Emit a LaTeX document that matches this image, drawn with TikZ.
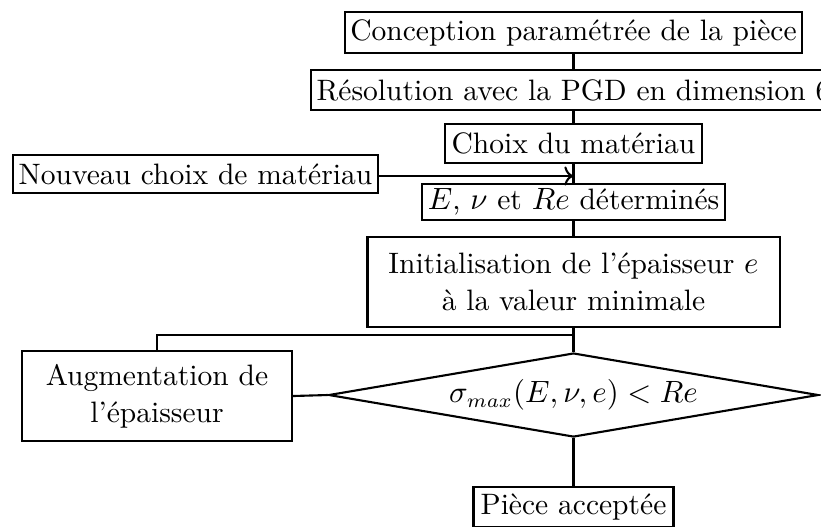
\documentclass[tikz,border=0pt]{standalone}
\usetikzlibrary{arrows.meta,shapes.geometric}

\begin{document}
\begin{tikzpicture}[x=0.0125cm,y=-0.0125cm,font=\fontsize{10.5}{13}\selectfont,
  boite/.style={draw,line width=0.75pt,align=center,inner xsep=2pt,inner ysep=1.5pt,minimum height=0.49cm},
  test/.style={draw,line width=0.75pt,shape=diamond,aspect=5.8,inner sep=0pt,minimum width=6.12cm,minimum height=1.05cm},
  lien/.style={line width=0.75pt}]
\useasboundingbox (0,0) rectangle (821,526);
\node[boite,minimum width=5.72cm,minimum height=0.51cm] (concept) at (573.5,32.5){Conception paramétrée de la pièce};
\node[boite,minimum width=6.52cm] (pgd) at (573.5,90){Résolution avec la PGD en dimension 6};
\node[boite,minimum width=3.21cm] (choix) at (573.5,143.5){Choix du matériau};
\node[boite,minimum width=3.77cm,minimum height=0.425cm] (proprio) at (573.5,202){$E$, $\nu$ et $Re$ déterminés};
\node[boite,minimum width=5.15cm,minimum height=1.12cm] (init) at (573.5,282){Initialisation de l'épaisseur $e$\\à la valeur minimale};
\node[boite,minimum width=4.56cm,minimum height=0.475cm] (nouveau) at (195.5,174){Nouveau choix de matériau};
\node[boite,minimum width=3.37cm,minimum height=1.12cm] (augm) at (157,396){Augmentation de\\l'épaisseur};
\node[test] (crit) at (573.5,395){$\sigma_{max}(E,\nu,e)<Re$};
\node[boite,minimum width=2.5cm,minimum height=0.5cm] (ok) at (573.5,507){Pièce acceptée};
\coordinate (arrivee) at (573.5,176);
\coordinate (coude) at (157,335);
\coordinate (jonction) at (573.5,335);
\draw[lien] (concept)--(pgd) (pgd)--(choix) (choix)--(proprio) (proprio)--(init) (init)--(crit) (crit)--(ok);
\draw[lien,->] (nouveau.east|-arrivee)--(arrivee);
\draw[lien] (crit.west)--(augm.east);
\draw[lien] (augm.north)--(coude)--(jonction);
\end{tikzpicture}
\end{document}
